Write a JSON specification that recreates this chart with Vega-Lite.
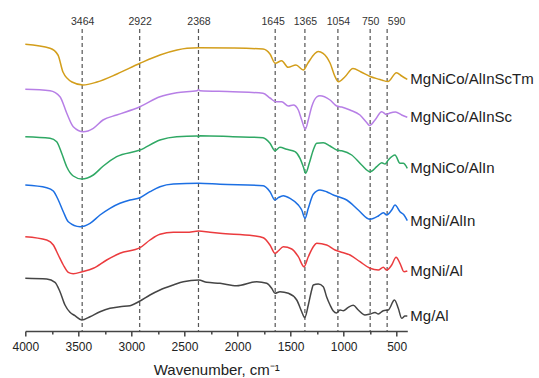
{
"$schema": "https://vega.github.io/schema/vega-lite/v6.json",
"width": 382, "height": 302,
"autosize": {"type": "none"},
"padding": {"left": 25.3, "top": 29, "right": 131.7, "bottom": 47},
"background": "white",
"config": {"view": {"stroke": null}, "font": "Liberation Sans", "axis": {"grid": false}},
"datasets": {
"peaks": [{"p":3464},{"p":2922},{"p":2368},{"p":1645},{"p":1365},{"p":1054},{"p":750},{"p":590}],
"spectra": [
{"s":"MgNiCo/AlInScTm","w":4000,"a":286.7},{"s":"MgNiCo/AlInScTm","w":3767,"a":282.7},{"s":"MgNiCo/AlInScTm","w":3692,"a":276},{"s":"MgNiCo/AlInScTm","w":3645,"a":259},{"s":"MgNiCo/AlInScTm","w":3560,"a":249},{"s":"MgNiCo/AlInScTm","w":3456,"a":246},{"s":"MgNiCo/AlInScTm","w":3324,"a":249},{"s":"MgNiCo/AlInScTm","w":3136,"a":257},{"s":"MgNiCo/AlInScTm","w":2919,"a":267.7},{"s":"MgNiCo/AlInScTm","w":2731,"a":276},{"s":"MgNiCo/AlInScTm","w":2570,"a":281},{"s":"MgNiCo/AlInScTm","w":2476,"a":282.7},{"s":"MgNiCo/AlInScTm","w":2363,"a":283.3},{"s":"MgNiCo/AlInScTm","w":2043,"a":283},{"s":"MgNiCo/AlInScTm","w":1760,"a":282},{"s":"MgNiCo/AlInScTm","w":1694,"a":277},{"s":"MgNiCo/AlInScTm","w":1645,"a":267.7},{"s":"MgNiCo/AlInScTm","w":1584,"a":270.3},{"s":"MgNiCo/AlInScTm","w":1524,"a":263.7},{"s":"MgNiCo/AlInScTm","w":1449,"a":266},{"s":"MgNiCo/AlInScTm","w":1380,"a":261},{"s":"MgNiCo/AlInScTm","w":1336,"a":268},{"s":"MgNiCo/AlInScTm","w":1275,"a":277},{"s":"MgNiCo/AlInScTm","w":1240,"a":279.5},{"s":"MgNiCo/AlInScTm","w":1194,"a":277.7},{"s":"MgNiCo/AlInScTm","w":1128,"a":268},{"s":"MgNiCo/AlInScTm","w":1081,"a":254.3},{"s":"MgNiCo/AlInScTm","w":1048,"a":249.3},{"s":"MgNiCo/AlInScTm","w":987,"a":254.3},{"s":"MgNiCo/AlInScTm","w":912,"a":262.5},{"s":"MgNiCo/AlInScTm","w":836,"a":259},{"s":"MgNiCo/AlInScTm","w":751,"a":254.5},{"s":"MgNiCo/AlInScTm","w":657,"a":251.5},{"s":"MgNiCo/AlInScTm","w":629,"a":250.5},{"s":"MgNiCo/AlInScTm","w":582,"a":249.5},{"s":"MgNiCo/AlInScTm","w":502,"a":258.3},{"s":"MgNiCo/AlInScTm","w":453,"a":255},{"s":"MgNiCo/AlInScTm","w":400,"a":251.7},
{"s":"MgNiCo/AlInSc","w":4000,"a":241.7},{"s":"MgNiCo/AlInSc","w":3767,"a":240.3},{"s":"MgNiCo/AlInSc","w":3673,"a":234.3},{"s":"MgNiCo/AlInSc","w":3610,"a":218},{"s":"MgNiCo/AlInSc","w":3548,"a":204.3},{"s":"MgNiCo/AlInSc","w":3453,"a":199.3},{"s":"MgNiCo/AlInSc","w":3359,"a":202.7},{"s":"MgNiCo/AlInSc","w":3268,"a":211},{"s":"MgNiCo/AlInSc","w":3139,"a":216},{"s":"MgNiCo/AlInSc","w":2919,"a":224.3},{"s":"MgNiCo/AlInSc","w":2731,"a":234.3},{"s":"MgNiCo/AlInSc","w":2573,"a":238.3},{"s":"MgNiCo/AlInSc","w":2380,"a":240.3},{"s":"MgNiCo/AlInSc","w":2368,"a":241.5},{"s":"MgNiCo/AlInSc","w":2355,"a":240.3},{"s":"MgNiCo/AlInSc","w":2043,"a":239.3},{"s":"MgNiCo/AlInSc","w":1760,"a":237.7},{"s":"MgNiCo/AlInSc","w":1694,"a":233},{"s":"MgNiCo/AlInSc","w":1640,"a":229.3},{"s":"MgNiCo/AlInSc","w":1584,"a":229.3},{"s":"MgNiCo/AlInSc","w":1521,"a":225},{"s":"MgNiCo/AlInSc","w":1474,"a":226},{"s":"MgNiCo/AlInSc","w":1427,"a":221},{"s":"MgNiCo/AlInSc","w":1395,"a":211},{"s":"MgNiCo/AlInSc","w":1361,"a":201.7},{"s":"MgNiCo/AlInSc","w":1333,"a":211},{"s":"MgNiCo/AlInSc","w":1301,"a":224.3},{"s":"MgNiCo/AlInSc","w":1254,"a":234},{"s":"MgNiCo/AlInSc","w":1223,"a":235.3},{"s":"MgNiCo/AlInSc","w":1128,"a":231},{"s":"MgNiCo/AlInSc","w":1065,"a":225},{"s":"MgNiCo/AlInSc","w":1018,"a":224},{"s":"MgNiCo/AlInSc","w":940,"a":221},{"s":"MgNiCo/AlInSc","w":846,"a":216},{"s":"MgNiCo/AlInSc","w":783,"a":208.5},{"s":"MgNiCo/AlInSc","w":756,"a":205.5},{"s":"MgNiCo/AlInSc","w":704,"a":211},{"s":"MgNiCo/AlInSc","w":641,"a":219.3},{"s":"MgNiCo/AlInSc","w":596,"a":216.5},{"s":"MgNiCo/AlInSc","w":563,"a":218},{"s":"MgNiCo/AlInSc","w":511,"a":219},{"s":"MgNiCo/AlInSc","w":453,"a":216},{"s":"MgNiCo/AlInSc","w":400,"a":213.7},
{"s":"MgNiCo/AlIn","w":4000,"a":194.3},{"s":"MgNiCo/AlIn","w":3767,"a":192.7},{"s":"MgNiCo/AlIn","w":3704,"a":189.3},{"s":"MgNiCo/AlIn","w":3657,"a":177.7},{"s":"MgNiCo/AlIn","w":3610,"a":164.3},{"s":"MgNiCo/AlIn","w":3548,"a":155},{"s":"MgNiCo/AlIn","w":3468,"a":152},{"s":"MgNiCo/AlIn","w":3359,"a":156},{"s":"MgNiCo/AlIn","w":3265,"a":165},{"s":"MgNiCo/AlIn","w":3139,"a":174.3},{"s":"MgNiCo/AlIn","w":2919,"a":181},{"s":"MgNiCo/AlIn","w":2731,"a":191},{"s":"MgNiCo/AlIn","w":2573,"a":194.3},{"s":"MgNiCo/AlIn","w":2380,"a":195},{"s":"MgNiCo/AlIn","w":2368,"a":194},{"s":"MgNiCo/AlIn","w":2355,"a":195.2},{"s":"MgNiCo/AlIn","w":2043,"a":194.3},{"s":"MgNiCo/AlIn","w":1760,"a":193.3},{"s":"MgNiCo/AlIn","w":1694,"a":187.7},{"s":"MgNiCo/AlIn","w":1647,"a":180.3},{"s":"MgNiCo/AlIn","w":1600,"a":183.7},{"s":"MgNiCo/AlIn","w":1537,"a":181.7},{"s":"MgNiCo/AlIn","w":1458,"a":179.3},{"s":"MgNiCo/AlIn","w":1411,"a":172.7},{"s":"MgNiCo/AlIn","w":1380,"a":164.3},{"s":"MgNiCo/AlIn","w":1358,"a":157.7},{"s":"MgNiCo/AlIn","w":1324,"a":167.7},{"s":"MgNiCo/AlIn","w":1286,"a":181},{"s":"MgNiCo/AlIn","w":1254,"a":187.7},{"s":"MgNiCo/AlIn","w":1192,"a":188.3},{"s":"MgNiCo/AlIn","w":1128,"a":185},{"s":"MgNiCo/AlIn","w":1065,"a":181},{"s":"MgNiCo/AlIn","w":1018,"a":180.3},{"s":"MgNiCo/AlIn","w":924,"a":176},{"s":"MgNiCo/AlIn","w":830,"a":166},{"s":"MgNiCo/AlIn","w":751,"a":159.3},{"s":"MgNiCo/AlIn","w":688,"a":164.3},{"s":"MgNiCo/AlIn","w":641,"a":168.3},{"s":"MgNiCo/AlIn","w":610,"a":167},{"s":"MgNiCo/AlIn","w":579,"a":171},{"s":"MgNiCo/AlIn","w":516,"a":176},{"s":"MgNiCo/AlIn","w":469,"a":167.7},{"s":"MgNiCo/AlIn","w":438,"a":167.7},{"s":"MgNiCo/AlIn","w":400,"a":162.7},
{"s":"MgNi/AlIn","w":4000,"a":146},{"s":"MgNi/AlIn","w":3798,"a":143.3},{"s":"MgNi/AlIn","w":3736,"a":140},{"s":"MgNi/AlIn","w":3689,"a":131},{"s":"MgNi/AlIn","w":3642,"a":119.3},{"s":"MgNi/AlIn","w":3595,"a":109.3},{"s":"MgNi/AlIn","w":3484,"a":104.3},{"s":"MgNi/AlIn","w":3390,"a":107.7},{"s":"MgNi/AlIn","w":3296,"a":116},{"s":"MgNi/AlIn","w":3202,"a":122.7},{"s":"MgNi/AlIn","w":3108,"a":127.7},{"s":"MgNi/AlIn","w":3013,"a":131},{"s":"MgNi/AlIn","w":2919,"a":133.3},{"s":"MgNi/AlIn","w":2825,"a":139.3},{"s":"MgNi/AlIn","w":2731,"a":144.3},{"s":"MgNi/AlIn","w":2605,"a":147},{"s":"MgNi/AlIn","w":2366,"a":147.7},{"s":"MgNi/AlIn","w":2165,"a":146.7},{"s":"MgNi/AlIn","w":1757,"a":145.3},{"s":"MgNi/AlIn","w":1694,"a":139.3},{"s":"MgNi/AlIn","w":1647,"a":131},{"s":"MgNi/AlIn","w":1616,"a":133.3},{"s":"MgNi/AlIn","w":1569,"a":135.3},{"s":"MgNi/AlIn","w":1505,"a":132.7},{"s":"MgNi/AlIn","w":1427,"a":126},{"s":"MgNi/AlIn","w":1395,"a":121},{"s":"MgNi/AlIn","w":1364,"a":112.7},{"s":"MgNi/AlIn","w":1333,"a":122.7},{"s":"MgNi/AlIn","w":1286,"a":136.7},{"s":"MgNi/AlIn","w":1223,"a":141},{"s":"MgNi/AlIn","w":1160,"a":139.3},{"s":"MgNi/AlIn","w":1097,"a":136},{"s":"MgNi/AlIn","w":1050,"a":134.3},{"s":"MgNi/AlIn","w":971,"a":131},{"s":"MgNi/AlIn","w":862,"a":121},{"s":"MgNi/AlIn","w":751,"a":111.7},{"s":"MgNi/AlIn","w":673,"a":115},{"s":"MgNi/AlIn","w":626,"a":118.3},{"s":"MgNi/AlIn","w":594,"a":116},{"s":"MgNi/AlIn","w":547,"a":121},{"s":"MgNi/AlIn","w":516,"a":126},{"s":"MgNi/AlIn","w":469,"a":119.3},{"s":"MgNi/AlIn","w":431,"a":116},{"s":"MgNi/AlIn","w":400,"a":110.3},
{"s":"MgNi/Al","w":4000,"a":94.3},{"s":"MgNi/Al","w":3798,"a":91},{"s":"MgNi/Al","w":3736,"a":86},{"s":"MgNi/Al","w":3689,"a":76},{"s":"MgNi/Al","w":3642,"a":66},{"s":"MgNi/Al","w":3595,"a":58.7},{"s":"MgNi/Al","w":3548,"a":57.3},{"s":"MgNi/Al","w":3463,"a":59.3},{"s":"MgNi/Al","w":3359,"a":62.7},{"s":"MgNi/Al","w":3233,"a":71},{"s":"MgNi/Al","w":3108,"a":77.7},{"s":"MgNi/Al","w":2919,"a":83.3},{"s":"MgNi/Al","w":2825,"a":91},{"s":"MgNi/Al","w":2731,"a":96.7},{"s":"MgNi/Al","w":2605,"a":98.7},{"s":"MgNi/Al","w":2479,"a":98.7},{"s":"MgNi/Al","w":2366,"a":100},{"s":"MgNi/Al","w":2259,"a":98.7},{"s":"MgNi/Al","w":2165,"a":97.7},{"s":"MgNi/Al","w":1851,"a":95.3},{"s":"MgNi/Al","w":1757,"a":93.3},{"s":"MgNi/Al","w":1694,"a":86},{"s":"MgNi/Al","w":1647,"a":77.7},{"s":"MgNi/Al","w":1616,"a":80},{"s":"MgNi/Al","w":1569,"a":84.3},{"s":"MgNi/Al","w":1489,"a":82},{"s":"MgNi/Al","w":1427,"a":74.3},{"s":"MgNi/Al","w":1374,"a":64.3},{"s":"MgNi/Al","w":1333,"a":74.3},{"s":"MgNi/Al","w":1286,"a":84.3},{"s":"MgNi/Al","w":1254,"a":87.7},{"s":"MgNi/Al","w":1160,"a":86},{"s":"MgNi/Al","w":1081,"a":81},{"s":"MgNi/Al","w":1034,"a":79.3},{"s":"MgNi/Al","w":940,"a":76},{"s":"MgNi/Al","w":846,"a":69.3},{"s":"MgNi/Al","w":751,"a":62.7},{"s":"MgNi/Al","w":673,"a":61},{"s":"MgNi/Al","w":626,"a":63.7},{"s":"MgNi/Al","w":594,"a":61},{"s":"MgNi/Al","w":547,"a":66},{"s":"MgNi/Al","w":506,"a":73.7},{"s":"MgNi/Al","w":469,"a":67.7},{"s":"MgNi/Al","w":431,"a":59.3},{"s":"MgNi/Al","w":400,"a":60},
{"s":"Mg/Al","w":4000,"a":52.7},{"s":"Mg/Al","w":3798,"a":52},{"s":"Mg/Al","w":3720,"a":48.7},{"s":"Mg/Al","w":3673,"a":39.3},{"s":"Mg/Al","w":3626,"a":26},{"s":"Mg/Al","w":3579,"a":18.7},{"s":"Mg/Al","w":3532,"a":15.3},{"s":"Mg/Al","w":3468,"a":11},{"s":"Mg/Al","w":3390,"a":14.3},{"s":"Mg/Al","w":3296,"a":19.3},{"s":"Mg/Al","w":3202,"a":22.7},{"s":"Mg/Al","w":3108,"a":24.3},{"s":"Mg/Al","w":3013,"a":25.3},{"s":"Mg/Al","w":2919,"a":30},{"s":"Mg/Al","w":2825,"a":36},{"s":"Mg/Al","w":2731,"a":41},{"s":"Mg/Al","w":2605,"a":46},{"s":"Mg/Al","w":2511,"a":49.3},{"s":"Mg/Al","w":2366,"a":51},{"s":"Mg/Al","w":2290,"a":48.7},{"s":"Mg/Al","w":2165,"a":47.7},{"s":"Mg/Al","w":2008,"a":45.3},{"s":"Mg/Al","w":1819,"a":49.3},{"s":"Mg/Al","w":1725,"a":47.7},{"s":"Mg/Al","w":1678,"a":42.7},{"s":"Mg/Al","w":1647,"a":37.7},{"s":"Mg/Al","w":1600,"a":39.3},{"s":"Mg/Al","w":1521,"a":37.7},{"s":"Mg/Al","w":1442,"a":31},{"s":"Mg/Al","w":1395,"a":19.3},{"s":"Mg/Al","w":1367,"a":13.3},{"s":"Mg/Al","w":1333,"a":26},{"s":"Mg/Al","w":1301,"a":41},{"s":"Mg/Al","w":1286,"a":46},{"s":"Mg/Al","w":1239,"a":47},{"s":"Mg/Al","w":1192,"a":44.3},{"s":"Mg/Al","w":1160,"a":34},{"s":"Mg/Al","w":1128,"a":26},{"s":"Mg/Al","w":1097,"a":20},{"s":"Mg/Al","w":1067,"a":18},{"s":"Mg/Al","w":1034,"a":21},{"s":"Mg/Al","w":1003,"a":20.3},{"s":"Mg/Al","w":956,"a":23.7},{"s":"Mg/Al","w":909,"a":25.7},{"s":"Mg/Al","w":862,"a":21},{"s":"Mg/Al","w":799,"a":16},{"s":"Mg/Al","w":751,"a":17},{"s":"Mg/Al","w":704,"a":18.5},{"s":"Mg/Al","w":673,"a":17},{"s":"Mg/Al","w":626,"a":20.3},{"s":"Mg/Al","w":579,"a":21},{"s":"Mg/Al","w":521,"a":31},{"s":"Mg/Al","w":485,"a":22.7},{"s":"Mg/Al","w":453,"a":12.7},{"s":"Mg/Al","w":422,"a":15},{"s":"Mg/Al","w":400,"a":15}
]
},
"layer": [
{
"data": {"name": "peaks"},
"mark": {"type": "rule", "strokeDash": [4, 3], "color": "#555555", "strokeWidth": 1.2},
"encoding": {
"x": {"field": "p", "type": "quantitative", "scale": {"domain": [4000, 400], "nice": false, "zero": false},
"axis": {"orient": "top", "values": [3464, 2922, 2368, 1645, 1365, 1054, 750, 590], "format": "d", "domain": false, "ticks": false, "tickSize": 0, "labelPadding": 3, "labelFontSize": 10.5, "labelColor": "#333333", "labelFlush": false, "labelOverlap": false,
"labelOffset": {"condition": [{"test": "datum.value == 590", "value": 9}, {"test": "datum.value == 1645", "value": -2.5}], "value": 0},
"title": null}}
}
},
{
"data": {"name": "spectra"},
"mark": {"type": "line", "interpolate": "monotone", "strokeWidth": 1.5},
"encoding": {
"x": {"field": "w", "type": "quantitative",
"axis": {"orient": "bottom", "values": [4000, 3500, 3000, 2500, 2000, 1500, 1000, 500], "format": "d", "domainColor": "#444444", "domainWidth": 1.5, "tickColor": "#444444", "tickWidth": 1.5, "tickSize": 5, "labelPadding": 5, "labelFontSize": 12, "labelColor": "#222222", "labelFlush": false, "title": "Wavenumber, cm⁻¹", "titleFontSize": 15, "titleFontWeight": "normal", "titleColor": "#222222", "titlePadding": 10}},
"y": {"field": "a", "type": "quantitative", "scale": {"domain": [0, 302], "nice": false, "zero": false}, "axis": null},
"color": {"field": "s", "type": "nominal", "legend": null,
"scale": {"domain": ["MgNiCo/AlInScTm", "MgNiCo/AlInSc", "MgNiCo/AlIn", "MgNi/AlIn", "MgNi/Al", "Mg/Al"], "range": ["#D39E1B", "#B77FE6", "#2FA864", "#1C6FE3", "#EB3B3E", "#454545"]}}
}
},
{
"data": {"name": "spectra"},
"transform": [{"filter": "datum.w == 400"}],
"mark": {"type": "text", "align": "left", "baseline": "middle", "dx": 3, "fontSize": 15, "color": "#222222"},
"encoding": {
"x": {"field": "w", "type": "quantitative",
"axis": {"orient": "bottom", "values": [3750, 3250, 2750, 2250, 1750, 1250, 750], "domain": false, "labels": false, "tickColor": "#444444", "tickWidth": 1.5, "tickSize": 3, "title": null}},
"y": {"field": "a", "type": "quantitative", "axis": null},
"text": {"field": "s"}
}
}
],
"resolve": {"axis": {"x": "independent"}}
}
